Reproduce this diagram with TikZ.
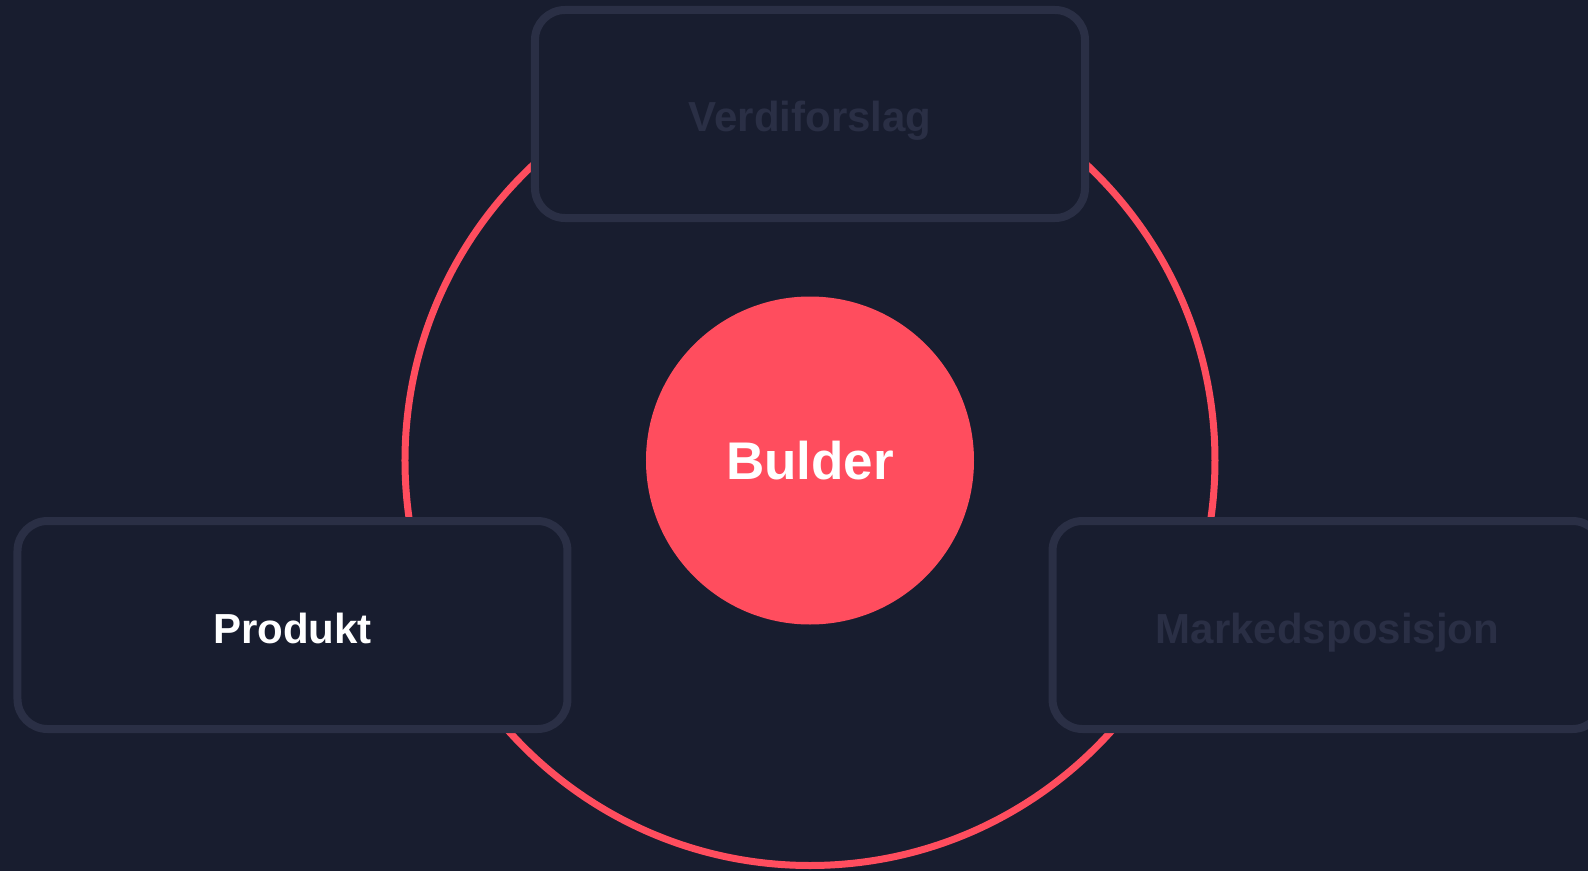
\documentclass[tikz,border=0pt]{standalone}
\usepackage{fontspec}
\setmainfont{Liberation Sans}
\definecolor{bgnavy}{HTML}{181D2F}
\definecolor{cardline}{HTML}{2A2F45}
\definecolor{bulderred}{HTML}{FF4D5E}

\begin{document}
\begin{tikzpicture}[x=1pt, y=1pt, node distance=346.5pt,
        card/.style={draw=cardline, fill=bgnavy, line width=8pt, rectangle, rounded corners=30pt, minimum width=550pt, minimum height=208pt, text height=36pt, text depth=0pt, font=\bfseries\fontsize{42}{50}\selectfont}]
        \fill[bgnavy] (-810,-410.5) rectangle (778,460.5);
        \useasboundingbox (-810,-410.5) rectangle (778,460.5);
        \node (ring) [circle, draw=bulderred, line width=7pt, minimum size=810pt, inner sep=0pt] at (0,0) {};
        \node (bulder) [circle, fill=bulderred, minimum size=328pt, inner sep=0pt, text=white, font=\bfseries\fontsize{53}{60}\selectfont] at (0,0) {Bulder};
        \node (verdi) [card, text=cardline, above of=bulder] {Verdiforslag};
        \node (produkt) [card, text=white] at (-517.5,-164.5) {Produkt};
        \node (marked) [card, text=cardline] at (517.5,-164.5) {Markedsposisjon};
    \end{tikzpicture}
\end{document}
